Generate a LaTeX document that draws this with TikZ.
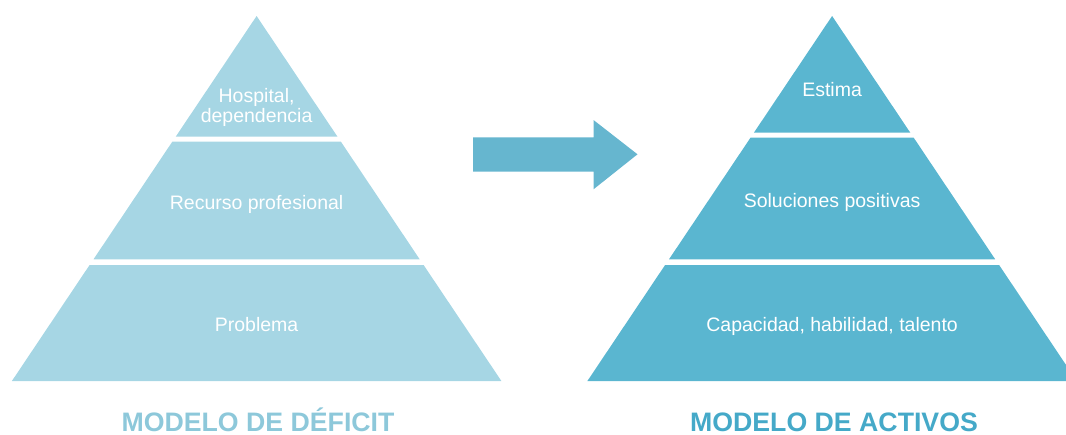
\documentclass[tikz,border=0pt]{standalone}
\usepackage{fontspec}
\setmainfont{Liberation Sans}
\usetikzlibrary{positioning}
\definecolor{deficitfill}{HTML}{A6D6E4}
\definecolor{deficittitle}{HTML}{8DC8DA}
\definecolor{activosfill}{HTML}{5AB6D0}
\definecolor{activostitle}{HTML}{45A9C8}
\definecolor{arrowfill}{HTML}{66B6CF}

\begin{document}
\begin{tikzpicture}[x = 1pt, y = -1pt]
\tikzstyle{BandLabel}=[text = white, inner sep = 0pt, anchor = base,
							align = center,
                         					font = \fontsize{19.5}{19.3}\selectfont]
\tikzstyle{ModelTitle}=[inner sep = 0pt, anchor = base,
							font = \fontsize{26.7}{30}\selectfont\bfseries]
\useasboundingbox (0,0) rectangle (1066,434);
\clip (0,0) rectangle (1066,434);
% deficit model
\fill[deficitfill] (256.6,16) -- (337.5,136.7) -- (175.7,136.7) -- cycle;
\fill[deficitfill] (172.3,141.7) -- (340.9,141.7) -- (419.7,259.3) -- (93.5,259.3) -- cycle;
\fill[deficitfill] (89.6,265) -- (423.6,265) -- (501.4,381) -- (11.9,381) -- cycle;
\node[BandLabel] (hospital) at (256.6,122) {Hospital,\\dependencia};
\node[BandLabel] (recurso) at (256.6,209) {Recurso profesional};
\node[BandLabel] (problema) at (256.6,331.5) {Problema};
\node[ModelTitle, text = deficittitle] (deficit) at (258,431) {MODELO DE DÉFICIT};
% arrow
\fill[arrowfill] (473,137.3) -- (593.5,137.3) -- (593.5,120) -- (637.5,154.3)
	-- (593.5,189.3) -- (593.5,171.7) -- (473,171.7) -- cycle;
% asset model
\fill[activosfill] (832.1,16) -- (910.3,132.7) -- (753.9,132.7) -- cycle;
\fill[activosfill] (750.5,137.7) -- (913.7,137.7) -- (995.2,259.3) -- (669,259.3) -- cycle;
\fill[activosfill] (665.1,265) -- (999.1,265) -- (1076.8,381) -- (587.4,381) -- cycle;
\node[BandLabel] (estima) at (832.1,96.7) {Estima};
\node[BandLabel] (soluciones) at (832.1,207.3) {Soluciones positivas};
\node[BandLabel] (capacidad) at (832.1,331.5) {Capacidad, habilidad, talento};
\node[ModelTitle, text = activostitle] (activos) at (834,431) {MODELO DE ACTIVOS};
\end{tikzpicture}
\end{document}
